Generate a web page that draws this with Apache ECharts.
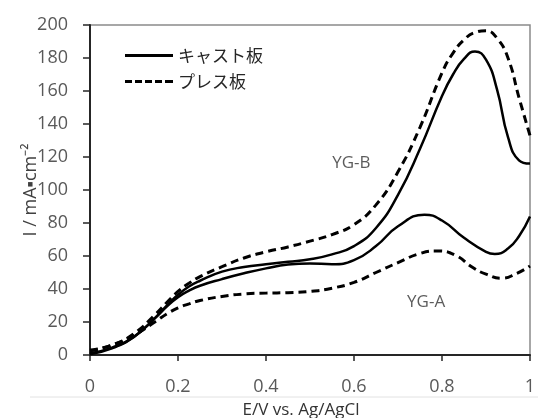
<!DOCTYPE html>
<html>
<head>
<meta charset="utf-8">
<script src="https://cdn.jsdelivr.net/npm/echarts@6/dist/echarts.min.js"></script>
<style>
  html, body { margin: 0; padding: 0; background: #fff; }
  #main { width: 538px; height: 418px; }
</style>
</head>
<body>
<div id="main"></div>
<script>
// potential (V vs. Ag/AgCl) and current density (mA/cm2)
var ygbCastX  = [0, 0.05, 0.1, 0.15, 0.175, 0.2, 0.225, 0.25, 0.3, 0.35, 0.4, 0.45, 0.5, 0.55, 0.6, 0.65, 0.7, 0.75, 0.8, 0.825, 0.85, 0.875, 0.9, 0.925, 0.95, 0.975, 1];
var ygbCastY  = [1, 4.5, 11, 23, 30, 36.5, 41.5, 45, 50.5, 53.3, 55, 56.5, 58, 61, 66, 77, 97, 125, 157, 170, 179.5, 184, 179, 161, 132, 118, 116];

var ygbPressX = [0, 0.05, 0.1, 0.15, 0.175, 0.2, 0.225, 0.25, 0.3, 0.35, 0.4, 0.45, 0.5, 0.55, 0.6, 0.65, 0.7, 0.75, 0.8, 0.825, 0.85, 0.875, 0.9, 0.925, 0.95, 0.975, 1];
var ygbPressY = [3, 6, 13, 25, 32, 38.5, 43.5, 47.5, 53.5, 58.8, 62.5, 65.5, 69, 73, 79, 91, 111, 138, 171, 183, 191, 195.5, 196.5, 192, 180, 156, 133];

var ygaCastX  = [0, 0.05, 0.1, 0.15, 0.175, 0.2, 0.225, 0.25, 0.3, 0.35, 0.4, 0.45, 0.5, 0.55, 0.6, 0.65, 0.7, 0.76, 0.8, 0.85, 0.9, 0.92, 0.95, 0.975, 1];
var ygaCastY  = [0.5, 4, 11, 23, 29.5, 35, 39, 42, 46, 49.5, 52.5, 54.8, 55.5, 55, 57.5, 66, 78, 85, 81.5, 71, 62.5, 61.2, 64.5, 72, 84];

var ygaPressX = [0, 0.05, 0.1, 0.15, 0.175, 0.2, 0.225, 0.25, 0.3, 0.35, 0.4, 0.45, 0.5, 0.55, 0.6, 0.65, 0.7, 0.75, 0.79, 0.83, 0.87, 0.9, 0.935, 0.97, 1];
var ygaPressY = [2.5, 6, 12, 20.5, 25, 28.5, 31, 33, 35.5, 37, 37.5, 37.8, 38.5, 40.5, 44, 50, 56, 61.5, 63, 60.5, 53, 49, 46.5, 49.5, 54];

var legendNames = ['キャスト板', 'プレス板'];
var xTicks = [0, 0.2, 0.4, 0.6, 0.8, 1];
var yTicks = [0, 20, 40, 60, 80, 100, 120, 140, 160, 180, 200];

// group labels placed at data coordinates
var groupLabels = ['YG-B', 'YG-A'];
var groupLabelX = [0.594, 0.764];
var groupLabelY = [116, 32];

function pairs(xs, ys) {
  return xs.map(function (x, i) { return [x, ys[i]]; });
}

var chart = echarts.init(document.getElementById('main'));

var labelFont = '"Open Sans", "Liberation Sans", sans-serif';
var cjkFont = '"Noto Sans CJK JP", sans-serif';

// legend icons: a plain bar, and a bar cut into five dashes
var solidIcon = 'path://M0,0h48v3h-48z';
var dashedIcon = 'path://M0,0h7v3h-7z M10,0h7v3h-7z M20,0h7v3h-7z M30,0h7v3h-7z M40,0h8v3h-8z';

function lineSeries(name, data, dashed) {
  return {
    name: name,
    type: 'line',
    data: data,
    smooth: 0.5,
    showSymbol: false,
    symbol: 'none',
    lineStyle: {
      color: '#000',
      width: dashed ? 3 : 2.5,
      type: dashed ? [8, 5] : 'solid'
    },
    itemStyle: { color: '#000' },
    z: 3
  };
}

var option = {
  animation: false,
  backgroundColor: '#fff',
  grid: {
    left: 90,
    top: 25,
    right: 8,
    bottom: 63,
    containLabel: false,
    outerBoundsMode: 'none',
    show: true,
    borderColor: '#8a8a8a',
    borderWidth: 1.5
  },
  legend: {
    data: [
      { name: legendNames[0], icon: solidIcon },
      { name: legendNames[1], icon: dashedIcon }
    ],
    orient: 'vertical',
    left: 120,
    top: 42,
    itemWidth: 48,
    itemHeight: 3,
    itemGap: 9,
    textStyle: {
      fontFamily: cjkFont,
      fontSize: 17,
      color: '#262626'
    }
  },
  xAxis: {
    type: 'value',
    min: xTicks[0],
    max: xTicks[xTicks.length - 1],
    interval: 0.2,
    name: 'E/V vs. Ag/AgCl',
    nameLocation: 'middle',
    nameGap: 47,
    nameMoveOverlap: false,
    nameTextStyle: {
      fontFamily: labelFont,
      fontSize: 17,
      color: '#333',
      padding: [0, 18, 0, 0]
    },
    axisLine: { lineStyle: { color: '#262626', width: 2 } },
    axisTick: { show: true, length: 6, lineStyle: { color: '#262626', width: 1.5 } },
    axisLabel: {
      margin: 23,
      fontFamily: labelFont,
      fontSize: 18,
      color: '#595959'
    },
    splitLine: { show: false }
  },
  yAxis: {
    type: 'value',
    min: yTicks[0],
    max: yTicks[yTicks.length - 1],
    interval: 20,
    name: 'I / mA▪cm⁻²',
    nameLocation: 'middle',
    nameGap: 50,
    nameMoveOverlap: false,
    nameTextStyle: {
      fontFamily: labelFont,
      fontSize: 18,
      color: '#404040'
    },
    axisLine: { lineStyle: { color: '#262626', width: 2 } },
    axisTick: { show: true, length: 7, lineStyle: { color: '#262626', width: 1.5 } },
    axisLabel: {
      margin: 22,
      fontFamily: labelFont,
      fontSize: 18,
      color: '#595959'
    },
    splitLine: { show: false }
  },
  graphic: [{
    type: 'line',
    shape: { x1: 30, y1: 397, x2: 538, y2: 397 },
    style: { stroke: '#e2e2e2', lineWidth: 1 },
    silent: true
  }],
  series: [
    lineSeries(legendNames[0], pairs(ygbCastX, ygbCastY), false),
    lineSeries(legendNames[1], pairs(ygbPressX, ygbPressY), true),
    lineSeries(legendNames[0], pairs(ygaCastX, ygaCastY), false),
    lineSeries(legendNames[1], pairs(ygaPressX, ygaPressY), true),
    {
      name: 'groups',
      type: 'scatter',
      symbolSize: 1,
      itemStyle: { color: 'rgba(0,0,0,0)' },
      data: groupLabels.map(function (t, i) {
        return { name: t, value: [groupLabelX[i], groupLabelY[i]] };
      }),
      label: {
        show: true,
        position: 'inside',
        formatter: '{b}',
        fontFamily: labelFont,
        fontSize: 17,
        color: '#333'
      },
      silent: true
    }
  ]
};

chart.setOption(option);
</script>
</body>
</html>
